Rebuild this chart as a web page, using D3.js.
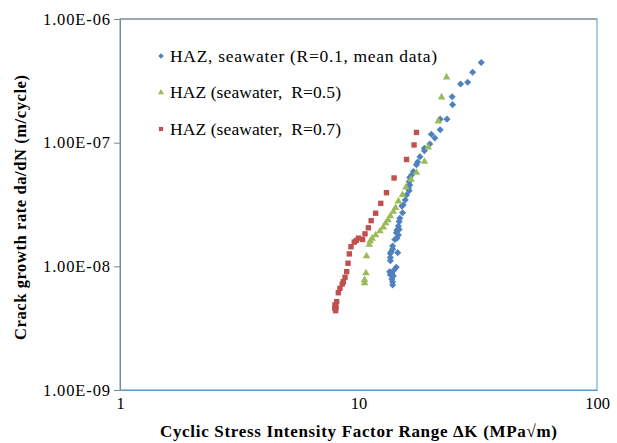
<!DOCTYPE html>
<html>
<head>
<meta charset="utf-8">
<script src="https://cdn.jsdelivr.net/npm/d3@7"></script>
<style>
  body { margin: 0; background: #fff; }
</style>
</head>
<body>
<svg id="chart" width="617" height="443"></svg>
<script>
// DATA  (dK in MPa*sqrt(m), da/dN in m/cycle)
const seriesNames = [
  "HAZ, seawater (R=0.1, mean data)",
  "HAZ (seawater,  R=0.5)",
  "HAZ (seawater,  R=0.7)"
];

const r01K = [32.7, 30.1, 28.7, 26.8, 24.7, 24.8, 23.5, 22.0, 22.0, 20.9, 20.2, 19.9, 18.9, 18.9,
  18.1, 17.7, 17.5, 17.0, 16.7, 16.4, 16.3, 16.4, 16.2, 16.3, 15.9, 15.7, 15.4, 15.2, 15.3, 14.9,
  14.8, 14.7, 14.8, 14.5, 14.4, 14.7, 14.5, 14.2, 13.9, 13.9, 13.7, 13.6, 14.6, 13.6, 13.6, 14.4,
  14.1, 13.5, 13.8, 13.6, 14.0, 13.8, 13.9, 13.9];
const r01Rate = [4.45e-7, 3.71e-7, 3.08e-7, 2.98e-7, 2.35e-7, 2.03e-7, 1.55e-7, 1.55e-7, 1.27e-7,
  1.09e-7, 1.17e-7, 9.76e-8, 9.01e-8, 8.61e-8, 7.70e-8, 6.98e-8, 6.64e-8, 5.85e-8, 5.48e-8, 5.23e-8,
  4.84e-8, 4.55e-8, 4.28e-8, 4.09e-8, 3.78e-8, 3.44e-8, 3.13e-8, 3.07e-8, 2.71e-8, 2.45e-8, 2.30e-8,
  2.12e-8, 1.99e-8, 1.97e-8, 1.87e-8, 1.79e-8, 1.69e-8, 1.65e-8, 1.46e-8, 1.38e-8, 1.31e-8, 1.27e-8,
  1.29e-8, 1.18e-8, 1.11e-8, 9.82e-9, 9.34e-9, 9.05e-9, 8.78e-9, 8.56e-9, 8.36e-9, 7.86e-9, 7.47e-9,
  7.07e-9];

const r05K = [23.4, 22.3, 21.6, 19.6, 18.9, 17.5, 16.6, 15.8, 15.3, 14.7, 14.3, 14.0, 13.6, 13.3,
  13.0, 12.7, 12.3, 11.8, 11.4, 11.2, 11.1, 10.8, 10.75, 10.6, 10.6];
const r05Rate = [3.38e-7, 2.33e-7, 1.49e-7, 9.19e-8, 7.02e-8, 5.72e-8, 5.04e-8, 4.36e-8, 3.78e-8,
  3.36e-8, 2.98e-8, 2.77e-8, 2.55e-8, 2.37e-8, 2.24e-8, 2.07e-8, 1.93e-8, 1.79e-8, 1.68e-8, 1.60e-8,
  1.50e-8, 1.21e-8, 8.83e-9, 7.76e-9, 7.33e-9];

const r07K = [17.5, 17.1, 15.9, 14.1, 13.1, 12.4, 11.8, 11.3, 11.0, 10.65, 10.4, 10.0, 9.79, 9.60,
  9.30, 9.15, 9.04, 8.92, 8.78, 8.64, 8.55, 8.36, 8.23, 8.10, 7.97, 8.05, 7.95, 8.02];
const r07Rate = [1.21e-7, 9.58e-8, 7.31e-8, 5.18e-8, 3.94e-8, 3.23e-8, 2.69e-8, 2.34e-8, 2.05e-8,
  1.83e-8, 1.65e-8, 1.69e-8, 1.62e-8, 1.57e-8, 1.44e-8, 1.26e-8, 1.06e-8, 9.05e-9, 8.15e-9, 7.51e-9,
  7.20e-9, 6.64e-9, 6.12e-9, 5.18e-9, 4.87e-9, 4.67e-9, 4.58e-9, 4.38e-9];

const xTicks = [1, 10, 100];
const yTicks = [1e-9, 1e-8, 1e-7, 1e-6];

const SERIF = "'Liberation Serif', 'Times New Roman', serif";

// LAYOUT
const margin = { top: 19, right: 20, bottom: 53, left: 120 };
const width = 617 - margin.left - margin.right;
const height = 443 - margin.top - margin.bottom;

const series = [
  { name: seriesNames[0], k: r01K, rate: r01Rate, color: "#4F81BD", symbol: d3.symbolSquare, size: 25, rot: 45, len: 267 },
  { name: seriesNames[1], k: r05K, rate: r05Rate, color: "#9BBB59", symbol: d3.symbolTriangle, size: 25, rot: 0, len: 171 },
  { name: seriesNames[2], k: r07K, rate: r07Rate, color: "#C0504D", symbol: d3.symbolSquare, size: 29, rot: 0, len: 171 }
];

const svg = d3.select("#chart");
const g = svg.append("g").attr("transform", `translate(${margin.left},${margin.top})`);

const x = d3.scaleLog().domain([1, 100]).range([0, width]);
const y = d3.scaleLog().domain([1e-9, 1e-6]).range([height, 0]);

function sci(d) {
  const [m, e] = d.toExponential(2).split("e");
  const n = Math.abs(+e);
  return `${m}E${+e < 0 ? "-" : "+"}${n < 10 ? "0" + n : n}`;
}

// plot area frame
g.append("rect")
  .attr("width", width)
  .attr("height", height)
  .attr("fill", "#fff")
  .attr("stroke", "#4F9BD9")
  .attr("stroke-width", 1);

// Y-axis
const yAxis = g.append("g")
  .call(d3.axisLeft(y).tickValues(yTicks).tickFormat(sci).tickSizeInner(6).tickSizeOuter(0).tickPadding(4));
yAxis.select(".domain").attr("stroke", "#868686");
yAxis.selectAll(".tick line").attr("stroke", "#868686");
yAxis.selectAll("text")
  .attr("fill", "#000")
  .style("font-family", SERIF)
  .style("font-size", "16.5px")
  .attr("textLength", 67)
  .attr("lengthAdjust", "spacing");

// X-axis
const xAxis = g.append("g")
  .attr("transform", `translate(0,${height})`)
  .call(d3.axisBottom(x).tickValues(xTicks).tickFormat(d3.format("d")).tickSizeInner(0).tickSizeOuter(0).tickPadding(7));
xAxis.select(".domain").attr("stroke", "#4F9BD9");
xAxis.selectAll("text")
  .attr("fill", "#000")
  .style("font-family", SERIF)
  .style("font-size", "16.5px");

// top border (grey like the axis)
g.append("line")
  .attr("x1", 0).attr("x2", width)
  .attr("y1", 0).attr("y2", 0)
  .attr("stroke", "#868686");

// POINTS
series.forEach(s => {
  const sym = d3.symbol().type(s.symbol).size(s.size);
  g.append("g")
    .attr("fill", s.color)
    .selectAll("path")
    .data(s.k.map((k, i) => ({ k, r: s.rate[i] })))
    .enter()
    .append("path")
    .attr("d", sym)
    .attr("transform", d => `translate(${x(d.k)},${y(d.r)}) rotate(${s.rot})`);
});

// LEGEND
const legend = g.selectAll(".legend")
  .data(series)
  .enter()
  .append("g")
  .attr("class", "legend")
  .attr("transform", (d, i) => `translate(41,${37 + i * 36.5})`);

legend.append("path")
  .attr("d", d => d3.symbol().type(d.symbol).size(d.size * 0.6)())
  .attr("transform", d => `rotate(${d.rot})`)
  .attr("fill", d => d.color);

legend.append("text")
  .attr("x", 9)
  .attr("dy", "0.33em")
  .attr("fill", "#000")
  .attr("textLength", d => d.len)
  .attr("lengthAdjust", "spacing")
  .style("font-family", SERIF)
  .style("font-size", "17.5px")
  .style("white-space", "pre")
  .text(d => d.name);

// AXIS TITLES
svg.append("text")
  .attr("x", margin.left + width / 2)
  .attr("y", 437)
  .attr("text-anchor", "middle")
  .attr("fill", "#000")
  .attr("textLength", 397)
  .attr("lengthAdjust", "spacing")
  .style("font-family", SERIF)
  .style("font-size", "17px")
  .style("font-weight", "bold")
  .text("Cyclic Stress Intensity Factor Range \u0394K (MPa\u221Am)");

svg.append("text")
  .attr("transform", `translate(26,${margin.top + height / 2 + 3}) rotate(-90)`)
  .attr("text-anchor", "middle")
  .attr("fill", "#000")
  .attr("textLength", 265)
  .attr("lengthAdjust", "spacing")
  .style("font-family", SERIF)
  .style("font-size", "16.5px")
  .style("font-weight", "bold")
  .text("Crack growth rate da/dN (m/cycle)");
</script>
</body>
</html>
